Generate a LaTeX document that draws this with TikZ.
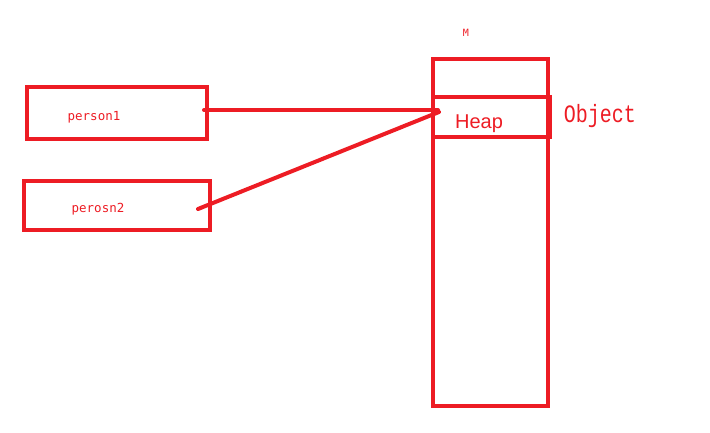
\documentclass[tikz,border=0pt]{standalone}
\usepackage{fontspec}
\newfontfamily\monofont{DejaVu Sans Mono}
\newfontfamily\objfont{Liberation Mono}
\newfontfamily\heapfont{Liberation Sans}
\definecolor{paintred}{RGB}{237,28,36}
\tikzset{
  redbox/.style={draw=paintred, line width=4pt, minimum width=#1, inner sep=0pt},
  redline/.style={draw=paintred, line width=4pt, line cap=round},
  smalltext/.style={text=paintred, font=\monofont\fontsize{12.5}{14}\selectfont, inner sep=0pt},
}
\begin{document}
\begin{tikzpicture}[x=1pt, y=-1pt]
            \useasboundingbox (0,0) rectangle (710,432);

            \node[redbox=180pt, minimum height=52pt] (person1) at (117,113) {};
            \node[redbox=186pt, minimum height=49pt] (perosn2) at (117,205.5) {};
            \node[smalltext] (p1txt) at (94,117) {person1};
            \node[smalltext] (p2txt) at (98,209) {perosn2};

            \node[redbox=115pt, minimum height=347pt] (mem) at (490.5,232) {};
            \node[redbox=117pt, minimum height=39.5pt] (heap) at (491.5,117.2) {};
            \node[text=paintred, inner sep=0pt, font=\heapfont\fontsize{20}{22}\selectfont] (heaptxt) at (479,123.5) {Heap};
            \node[text=paintred, inner sep=0pt, yscale=1.25, font=\objfont\fontsize{20}{22}\selectfont] (objtxt) at (600,116) {Object};
            \node[text=paintred, inner sep=0pt, font=\monofont\fontsize{10}{11}\selectfont] (mtxt) at (466,33) {M};

            \coordinate (a1) at (204,110);
            \coordinate (a2) at (198,209);
            \coordinate (h1) at (438,110);
            \coordinate (h2) at (439,112);
            \draw[redline] (a1) -- (h1);
            \draw[redline] (a2) -- (h2);
        \end{tikzpicture}
\end{document}
